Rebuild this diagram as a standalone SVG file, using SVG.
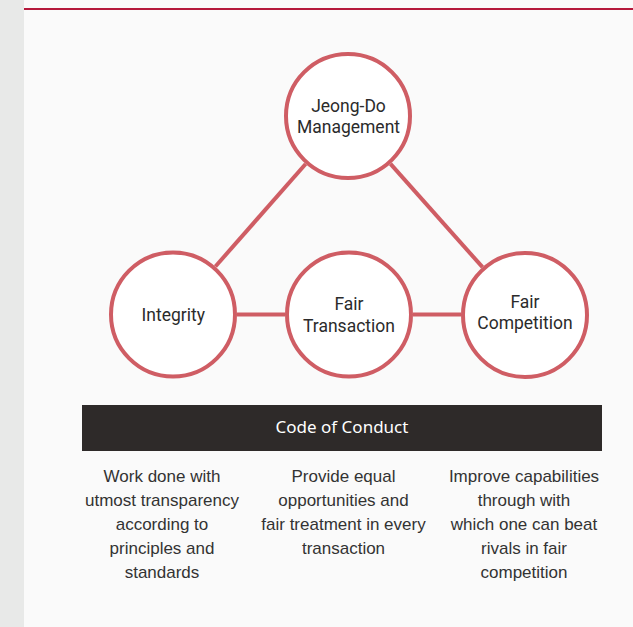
<svg xmlns="http://www.w3.org/2000/svg" width="633" height="627" viewBox="0 0 633 627">
  <style>
    .node circle { fill: #ffffff; stroke: #cf5d64; stroke-width: 4; }
    .node text { font-family: Roboto, "Noto Sans", sans-serif; font-size: 17.5px; fill: #2b2b2b; text-anchor: middle; }
    .conn line { stroke: #cf5d64; stroke-width: 4; }
    .desc text { font-family: "Liberation Sans", Arial, sans-serif; font-size: 17px; fill: #333333; text-anchor: middle; }
  </style>
  <rect x="0" y="0" width="633" height="627" fill="#e8e9e8"/>
  <rect x="24" y="0" width="609" height="627" fill="#fafafa"/>
  <rect x="24" y="8" width="609" height="2" fill="#b5193c"/>

  <g id="connectors" class="conn">
    <line x1="215.4" y1="266.5" x2="305.6" y2="164"/>
    <line x1="482.5" y1="267.2" x2="390.5" y2="163.8"/>
    <line x1="237" y1="314.5" x2="285" y2="314.5"/>
    <line x1="413" y1="314.5" x2="461" y2="314.5"/>
  </g>

  <g id="node-jeongdo" class="node">
    <circle cx="348" cy="116" r="62"/>
    <text x="348.5" y="111.5">Jeong-Do</text>
    <text x="348.5" y="133">Management</text>
  </g>
  <g id="node-integrity" class="node">
    <circle cx="173" cy="314.5" r="62"/>
    <text x="173.3" y="321">Integrity</text>
  </g>
  <g id="node-fair-transaction" class="node">
    <circle cx="349" cy="314.5" r="62"/>
    <text x="349" y="310">Fair</text>
    <text x="349" y="331.5">Transaction</text>
  </g>
  <g id="node-fair-competition" class="node">
    <circle cx="525" cy="315" r="62"/>
    <text x="525" y="307.5">Fair</text>
    <text x="525" y="329">Competition</text>
  </g>

  <g id="code-of-conduct">
    <rect x="82" y="405" width="520" height="46" fill="#2e2a29"/>
    <text x="342" y="433" font-family="'Noto Sans', 'DejaVu Sans', sans-serif" font-size="17" fill="#ffffff" text-anchor="middle">Code of Conduct</text>
  </g>

  <g id="descriptions" class="desc">
    <text x="162" y="482">Work done with</text>
    <text x="162" y="506">utmost transparency</text>
    <text x="162" y="530">according to</text>
    <text x="162" y="554">principles and</text>
    <text x="162" y="578">standards</text>

    <text x="343.5" y="482">Provide equal</text>
    <text x="343.5" y="506">opportunities and</text>
    <text x="343.5" y="530">fair treatment in every</text>
    <text x="343.5" y="554">transaction</text>

    <text x="524" y="482">Improve capabilities</text>
    <text x="524" y="506">through with</text>
    <text x="524" y="530">which one can beat</text>
    <text x="524" y="554">rivals in fair</text>
    <text x="524" y="578">competition</text>
  </g>
</svg>
